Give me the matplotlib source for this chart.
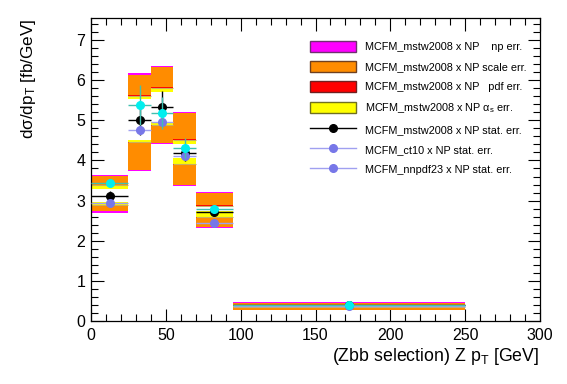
import matplotlib
matplotlib.use("Agg")
import matplotlib.pyplot as plt
from matplotlib.lines import Line2D
from matplotlib.patches import Patch
from matplotlib.ticker import MultipleLocator
import numpy as np

plt.rcParams["font.family"] = ["Liberation Sans", "DejaVu Sans"]
plt.rcParams["mathtext.fontset"] = "custom"
plt.rcParams["mathtext.rm"] = "Liberation Sans"
plt.rcParams["mathtext.it"] = "Liberation Sans"

# Z pT bins [GeV]
edges = [0, 25, 40, 55, 70, 95, 250]

# central predictions [fb/GeV] and statistical errors
mstw = [3.12, 5.02, 5.34, 4.19, 2.72, 0.39]
mstw_stat = [0.12, 0.38, 0.40, 0.20, 0.10, 0.01]
ct10 = [3.45, 5.38, 5.19, 4.30, 2.79, 0.40]
ct10_stat = [0.10, 0.50, 0.40, 0.25, 0.10, 0.01]
nnpdf = [2.93, 4.76, 4.97, 4.11, 2.44, 0.38]
nnpdf_stat = [0.05, 0.10, 0.10, 0.08, 0.05, 0.01]

# uncertainty bands (low, high)
np_lo = [2.70, 3.73, 4.40, 3.36, 2.32, 0.27]
np_hi = [3.65, 6.17, 6.36, 5.22, 3.22, 0.47]
scale_lo = [2.73, 3.76, 4.43, 3.39, 2.35, 0.285]
scale_hi = [3.62, 6.14, 6.33, 5.19, 3.19, 0.46]
pdf_lo = [2.86, 4.44, 4.86, 3.89, 2.56, 0.35]
pdf_hi = [3.40, 5.62, 5.82, 4.53, 2.88, 0.41]
as_lo = [2.88, 4.46, 4.88, 3.91, 2.58, 0.36]
as_hi = [3.38, 5.60, 5.80, 4.52, 2.86, 0.40]
inner_lo = [2.97, 4.52, 4.97, 4.05, 2.73, 0.37]
inner_hi = [3.28, 5.52, 5.70, 4.40, 2.83, 0.39]

edges = np.array(edges, dtype=float)
centers = 0.5 * (edges[:-1] + edges[1:])
widths = np.diff(edges)
half = widths / 2

fig = plt.figure(figsize=(5.67, 3.84), dpi=100)
ax = fig.add_axes([91 / 567, 1 - 321 / 384, 449 / 567, 303 / 384])

bands = [
    (np_lo, np_hi, "#ff00ff"),
    (scale_lo, scale_hi, "#ff8c00"),
    (pdf_lo, pdf_hi, "#ff0000"),
    (as_lo, as_hi, "#ffff00"),
    (inner_lo, inner_hi, "#ffffff"),
]
for lo, hi, col in bands:
    lo = np.array(lo)
    hi = np.array(hi)
    ax.bar(edges[:-1], hi - lo, width=widths, bottom=lo, align="edge",
           color=col, edgecolor="none", zorder=2)

# thin lines inside the bands
ax.hlines(np.array(as_hi), edges[:-1], edges[1:], color="#c8b060", lw=0.8, zorder=2.5)
ax.hlines(np.array(as_lo), edges[:-1], edges[1:], color="#c8b060", lw=0.8, zorder=2.5)

ax.errorbar(centers, mstw, xerr=half, yerr=mstw_stat, fmt="o", color="black",
            ms=5.5, lw=1, capsize=0, zorder=3)
ax.errorbar(centers, nnpdf, xerr=half, yerr=nnpdf_stat, fmt="o", color="#7777e8",
            ecolor="#a0a0f0", ms=5.5, lw=1, capsize=0, zorder=4)
ax.errorbar(centers, ct10, xerr=half, yerr=ct10_stat, fmt="o", color="#00eeee",
            ecolor="#40c0b0", ms=5.5, lw=1, capsize=0, zorder=5)

ax.set_xlim(0, 300)
ax.set_ylim(0, 7.55)
ax.xaxis.set_major_locator(MultipleLocator(50))
ax.xaxis.set_minor_locator(MultipleLocator(10))
ax.yaxis.set_major_locator(MultipleLocator(1))
ax.yaxis.set_minor_locator(MultipleLocator(0.2))
ax.tick_params(which="both", direction="in", top=True, right=True, labelsize=11.5)
ax.tick_params(which="major", length=9, width=0.8)
ax.tick_params(which="minor", length=5, width=0.8)
ax.tick_params(axis="x", pad=5)
ax.tick_params(axis="y", pad=4)
for s in ax.spines.values():
    s.set_linewidth(0.9)

handles = [
    Patch(facecolor="#ff00ff", edgecolor="#703070"),
    Patch(facecolor="#ff8c00", edgecolor="#704020"),
    Patch(facecolor="#ff0000", edgecolor="#702020"),
    Patch(facecolor="#ffff00", edgecolor="#707020"),
    Line2D([], [], color="black", marker="o", ms=5.5, lw=1),
    Line2D([], [], color="#a0a0f0", marker="o", mfc="#7777e8", mec="#7777e8", ms=5.5, lw=1),
    Line2D([], [], color="#a0a0f0", marker="o", mfc="#7777e8", mec="#7777e8", ms=5.5, lw=1),
]
labels = [
    "MCFM_mstw2008 x NP    np err.",
    "MCFM_mstw2008 x NP scale err.",
    "MCFM_mstw2008 x NP   pdf err.",
    r"MCFM_mstw2008 x NP $\alpha_s$ err.",
    "MCFM_mstw2008 x NP stat. err.",
    "MCFM_ct10 x NP stat. err.",
    "MCFM_nnpdf23 x NP stat. err.",
]
ax.legend(handles, labels, loc="upper left",
          bbox_to_anchor=(310 / 567, 1 - 41 / 384), bbox_transform=fig.transFigure,
          frameon=False, fontsize=7.8, handlelength=4.2, handleheight=1.15,
          handletextpad=0.85, labelspacing=0.83, borderpad=0, borderaxespad=0)

fig.text(539 / 567, 1 - 361 / 384, r"(Zbb selection) Z p$_{\mathrm{T}}$ [GeV]",
         ha="right", va="baseline", fontsize=12.8)
fig.text(29 / 567, 1 - 19 / 384, r"d$\sigma$/dp$_{\mathrm{T}}$ [fb/GeV]",
         ha="center", va="top", rotation=90, fontsize=12.3)

fig.savefig("out.png", dpi=100)
